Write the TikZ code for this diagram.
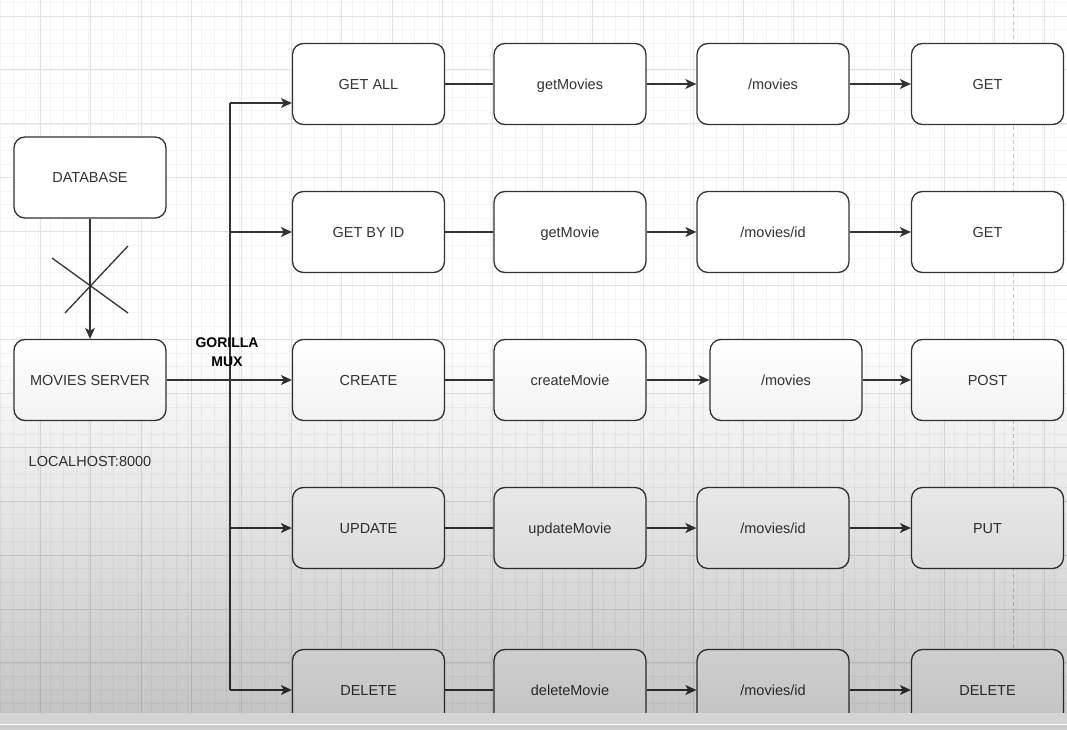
\documentclass[tikz,border=0pt]{standalone}
\usepackage{fontspec}
\setmainfont{Liberation Sans}
\usetikzlibrary{arrows.meta}
\definecolor{ink}{HTML}{333333}
\definecolor{gridminor}{HTML}{F4F4F4}
\definecolor{gridmajor}{HTML}{E2E2E2}
\definecolor{pageline}{HTML}{C8C8C8}
\tikzset{
  box/.style={draw=ink, line width=1.3pt, rounded corners=11pt, fill=white,
    minimum width=152pt, minimum height=81pt, inner sep=0pt,
    text height=10.5pt, text depth=0pt,
    text=ink, font=\fontsize{14.5}{17}\selectfont},
  link/.style={draw=ink, line width=1.3pt},
  arr/.style={link, -{Stealth[length=11pt,width=10pt,inset=3pt]}},
  lbl/.style={text=ink, inner sep=0pt, font=\fontsize{14.5}{17}\selectfont},
}
\begin{document}
\begin{tikzpicture}[x=1pt,y=-1pt]
\useasboundingbox (0,0) rectangle (1067,730);
\fill[white] (0,0) rectangle (1067,730);
% grid
\foreach \i in {0,...,86} {
  \draw[gridminor, line width=0.6pt] ({0.5+12.55*\i},0) -- ({0.5+12.55*\i},730);
}
\foreach \j in {0,...,54} {
  \draw[gridminor, line width=0.6pt] (0,{2.5+13.48*\j}) -- (1067,{2.5+13.48*\j});
}
\foreach \i in {0,...,21} {
  \draw[gridmajor, line width=0.8pt] ({-9.7+50.2*\i},0) -- ({-9.7+50.2*\i},730);
}
\foreach \j in {0,...,13} {
  \draw[gridmajor, line width=0.8pt] (0,{16+53.9*\j}) -- (1067,{16+53.9*\j});
}
% page break line
\draw[pageline, line width=1pt, dash pattern=on 4pt off 3pt] (1013,0) -- (1013,730);

% left side
\node[box] (db) at (90,177.5) {DATABASE};
\node[box] (ms) at (90,380) {MOVIES SERVER};
\node[lbl] (lh) at (90,462) {LOCALHOST:8000};
\draw[arr] (db.south) -- (ms.north);
\coordinate (xa1) at (52,258);
\coordinate (xa2) at (128,313);
\coordinate (xb1) at (65,313);
\coordinate (xb2) at (128,246);
\draw[link] (xa1) -- (xa2);
\draw[link] (xb1) -- (xb2);

% columns
\node[box] (ga)  at (368.5,84) {GET ALL};
\node[box] (gb)  at (368.5,232) {GET BY ID};
\node[box] (cr)  at (368.5,380) {CREATE};
\node[box] (up)  at (368.5,528) {UPDATE};
\node[box] (de)  at (368.5,690) {DELETE};

\node[box] (f1) at (570,84) {getMovies};
\node[box] (f2) at (570,232) {getMovie};
\node[box] (f3) at (570,380) {createMovie};
\node[box] (f4) at (570,528) {updateMovie};
\node[box] (f5) at (570,690) {deleteMovie};

\node[box] (p1) at (773,84) {/movies};
\node[box] (p2) at (773,232) {/movies/id};
\node[box] (p3) at (786,380) {/movies};
\node[box] (p4) at (773,528) {/movies/id};
\node[box] (p5) at (773,690) {/movies/id};

\node[box] (m1) at (987.5,84) {GET};
\node[box] (m2) at (987.5,232) {GET};
\node[box] (m3) at (987.5,380) {POST};
\node[box] (m4) at (987.5,528) {PUT};
\node[box] (m5) at (987.5,690) {DELETE};

% bus
\coordinate (bus) at (230,0);
\coordinate (bt) at (230,103);
\draw[link] (bt) -- (bus |- de.west);
\draw[arr] (bt) -- (bt -| ga.west);
\draw[arr] (bus |- gb.west) -- (gb.west);
\draw[arr] (ms.east) -- (cr.west);
\draw[arr] (bus |- up.west) -- (up.west);
\draw[arr] (bus |- de.west) -- (de.west);
\node[text=black, inner sep=0pt, align=center, font=\bfseries\fontsize{14}{19}\selectfont] (gm) at (227,352.5) {GORILLA\\MUX};

% rows
\foreach \a/\b/\c/\d in {ga/f1/p1/m1, gb/f2/p2/m2, cr/f3/p3/m3, up/f4/p4/m4, de/f5/p5/m5} {
  \draw[link] (\a.east) -- (\b.west);
  \draw[arr] (\b.east) -- (\c.west);
  \draw[arr] (\c.east) -- (\d.west);
}

% darkening toward the bottom
\begin{scope}[blend mode=multiply]
\shade[top color=white, bottom color=black!24] (0,340) rectangle (1067,730);
\end{scope}
% bottom strip
\fill[black!17] (0,713) rectangle (1067,723.5);
\fill[white] (0,723.5) rectangle (1067,725);
\fill[black!20] (0,725) rectangle (1067,730);
\end{tikzpicture}
\end{document}
